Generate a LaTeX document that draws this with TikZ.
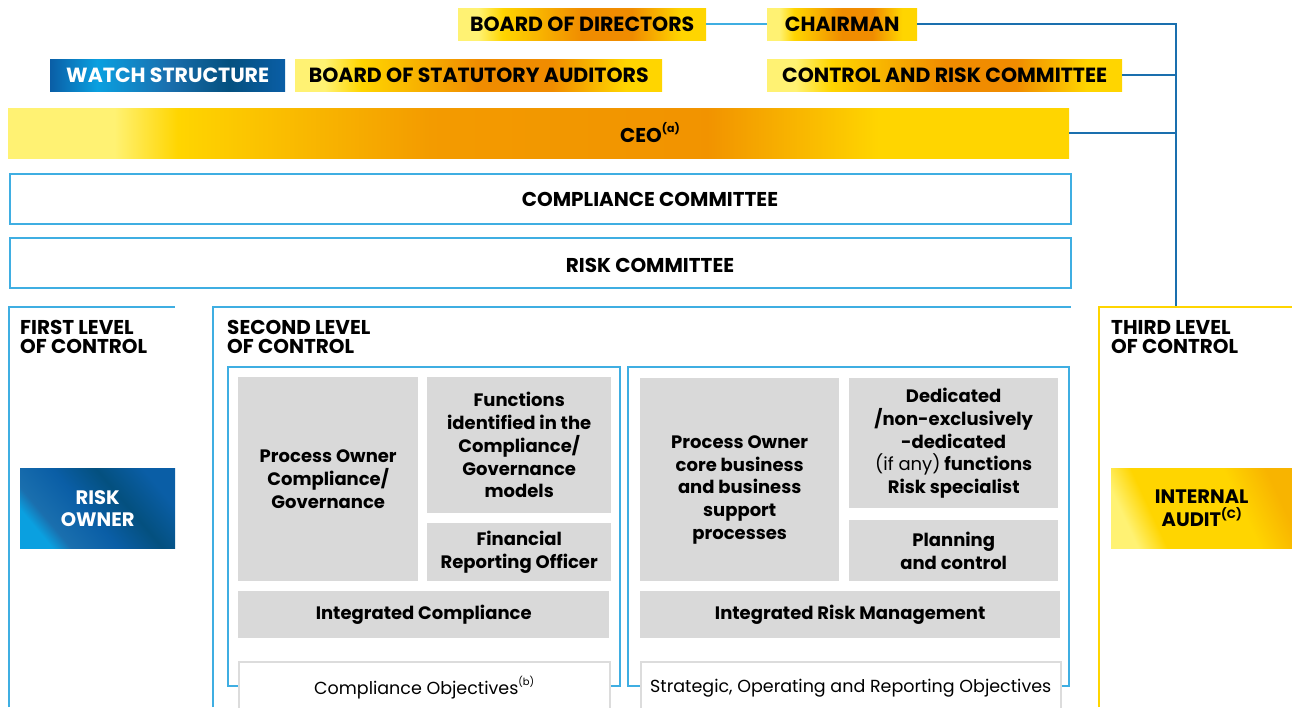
\documentclass[tikz,border=0pt]{standalone}
\usepackage{fontspec}
\setmainfont{Poppins}
\usetikzlibrary{positioning,calc}

\definecolor{paleyel}{HTML}{FFF273}
\definecolor{sunyel}{HTML}{FFD500}
\definecolor{deeporange}{HTML}{F08C00}
\definecolor{navyblue}{HTML}{0A5EA6}
\definecolor{skyblue}{HTML}{0AA0E0}
\definecolor{tealblue}{HTML}{04507F}
\definecolor{lineblue}{HTML}{3FAEE2}
\definecolor{trunkblue}{HTML}{1A6FAE}
\definecolor{greyfill}{HTML}{D9D9D9}
\definecolor{greyedge}{HTML}{DCDCDC}

\pgfdeclarehorizontalshading{goldbar}{100bp}{color(0bp)=(paleyel); color(25bp)=(paleyel); color(29bp)=(paleyel); color(34bp)=(sunyel); color(50bp)=(deeporange); color(60bp)=(deeporange); color(70bp)=(sunyel); color(75bp)=(sunyel); color(100bp)=(sunyel)}
\pgfdeclarehorizontalshading{ceobar}{100bp}{color(0bp)=(paleyel); color(25bp)=(paleyel); color(30bp)=(paleyel); color(33bp)=(sunyel); color(45bp)=(deeporange!80!sunyel); color(58bp)=(deeporange!90!sunyel); color(66bp)=(sunyel); color(75bp)=(sunyel); color(100bp)=(sunyel)}
\pgfdeclarehorizontalshading{bluebar}{100bp}{color(0bp)=(navyblue); color(25bp)=(navyblue); color(35bp)=(skyblue); color(50bp)=(trunkblue); color(63bp)=(tealblue); color(75bp)=(navyblue); color(100bp)=(navyblue)}
\pgfdeclarehorizontalshading{blueglow}{100bp}{color(0bp)=(skyblue); color(25bp)=(skyblue); color(31bp)=(trunkblue); color(46bp)=(navyblue); color(60bp)=(tealblue); color(75bp)=(navyblue); color(100bp)=(navyblue)}
\pgfdeclarehorizontalshading{goldglow}{100bp}{color(0bp)=(paleyel); color(25bp)=(paleyel); color(34bp)=(sunyel); color(62bp)=(sunyel); color(75bp)=(deeporange!45!sunyel); color(100bp)=(deeporange!45!sunyel)}

\tikzset{
  tag/.style={anchor=north west, inner sep=0pt, minimum height=32,
    font=\bfseries\fontsize{20.5}{20.5}\selectfont},
  goldtag/.style={tag, shading=goldbar},
  bluetag/.style={tag, shading=bluebar, text=white},
  wideline/.style={anchor=north west, inner sep=0pt, draw=lineblue, line width=2pt},
  widetext/.style={font=\bfseries\fontsize{20}{20}\selectfont},
  levelhead/.style={anchor=north west, inner sep=0pt, align=left,
    font=\bfseries\fontsize{20}{19.5}\selectfont},
  greybox/.style={anchor=north west, inner sep=0pt, fill=greyfill, align=center,
    font=\bfseries\fontsize{18}{22.7}\selectfont},
  greytext/.style={align=center, inner sep=0pt, font=\bfseries\fontsize{18}{22.7}\selectfont},
  objbox/.style={anchor=north west, inner sep=0pt, fill=white, draw=greyedge, line width=1.5pt,
    minimum height=52, font=\fontsize{17.5}{18}\selectfont},
  link/.style={draw=trunkblue, line width=2pt},
  levelline/.style={draw=lineblue, line width=2.5pt},
  innerline/.style={draw=lineblue, line width=1.5pt}
}

\begin{document}
\begin{tikzpicture}[x=1pt,y=-1pt]
  \useasboundingbox (0,0) rectangle (1292,707);

  % governing bodies
  \node[goldtag, minimum width=248] (bod) at (458,8) {BOARD OF DIRECTORS};
  \node[goldtag, minimum width=150] (chair) at (767,8) {CHAIRMAN};
  \node[bluetag, minimum width=235] (watch) at (50,59) {WATCH STRUCTURE};
  \node[goldtag, minimum width=367] (bsa) at (295,59) {BOARD OF STATUTORY AUDITORS};
  \node[goldtag, minimum width=355] (crc) at (767,59) {CONTROL AND RISK COMMITTEE};
  \node[tag, shading=ceobar, minimum width=1061, minimum height=50] (ceo) at (8,108) {};
  \node[widetext] at (650,133) {CEO\raisebox{0.5em}{\fontsize{11}{11}\selectfont(a)}};

  % committees
  \node[wideline, minimum width=1061, minimum height=50] (cc) at (9,173) {};
  \node[widetext] at (650,199) {COMPLIANCE COMMITTEE};
  \node[wideline, minimum width=1061, minimum height=50] (rc) at (9,237) {};
  \node[widetext] at (650,265) {RISK COMMITTEE};

  % reporting lines
  \coordinate (trunk) at (1176,307);
  \draw[draw=lineblue, line width=2pt] (bod.east) -- (chair.west);
  \draw[link] (chair.east) -| (trunk);
  \draw[link] (crc.east) -- (crc.east -| trunk);
  \draw[link] (ceo.east) -- (ceo.east -| trunk);

  % three levels
  \draw[levelline] (9,707) |- (175,307);
  \draw[levelline] (213,707) |- (1071,307);
  \draw[levelline, draw=sunyel] (1099,707) |- (1292,307);
  \node[levelhead] (first) at (20,320) {FIRST LEVEL\\OF CONTROL};
  \node[levelhead] (second) at (227,320) {SECOND LEVEL\\OF CONTROL};
  \node[levelhead] (third) at (1111,320) {THIRD LEVEL\\OF CONTROL};

  \node[tag, shading=blueglow, shading angle=40, minimum width=155, minimum height=80, text=white,
    align=center, font=\bfseries\fontsize{19.5}{22}\selectfont] (owner) at (20,468) {RISK\\OWNER};
  \node[tag, shading=goldglow, shading angle=25, minimum width=181, minimum height=80,
    align=center, font=\bfseries\fontsize{19.5}{22.5}\selectfont] (audit) at (1111,468)
    {INTERNAL\\AUDIT\raisebox{0.38em}{\fontsize{12}{12}\selectfont(C)}};

  % compliance side
  \draw[innerline] (228,367) rectangle (620,686);
  \node[greybox, minimum width=180, minimum height=204] (pocg) at (238,377)
    {Process Owner\\Compliance/\\Governance};
  \node[greybox, minimum width=184, minimum height=136] (funcs) at (427,377)
    {Functions\\identified in the\\Compliance/\\Governance\\models};
  \node[greybox, minimum width=184, minimum height=58] (fro) at (427,523)
    {Financial\\Reporting Officer};
  \node[greybox, minimum width=371, minimum height=47] (intcomp) at (238,591)
    {Integrated Compliance};
  \node[objbox, minimum width=371] (compobj) at (238,661)
    {Compliance Objectives\raisebox{0.5em}{\fontsize{10}{10}\selectfont(b)}};

  % risk side
  \draw[innerline] (628,367) rectangle (1069,686);
  \node[greybox, minimum width=199, minimum height=203] (pocore) at (640,378) {};
  \node[greytext] at ($(pocore.center)+(0,10)$)
    {Process Owner\\core business\\and business\\support\\processes};
  \node[greybox, minimum width=209, minimum height=130] (dedic) at (849,378)
    {Dedicated\\/non-exclusively\\-dedicated\\{\mdseries (if any)} functions\\Risk specialist};
  \node[greybox, minimum width=209, minimum height=61] (plan) at (849,520)
    {Planning\\and control};
  \node[greybox, minimum width=420, minimum height=47] (intrisk) at (640,591)
    {Integrated Risk Management};
  \node[objbox, minimum width=420] (riskobj) at (640,661) {Strategic, Operating and Reporting Objectives};
\end{tikzpicture}
\end{document}
